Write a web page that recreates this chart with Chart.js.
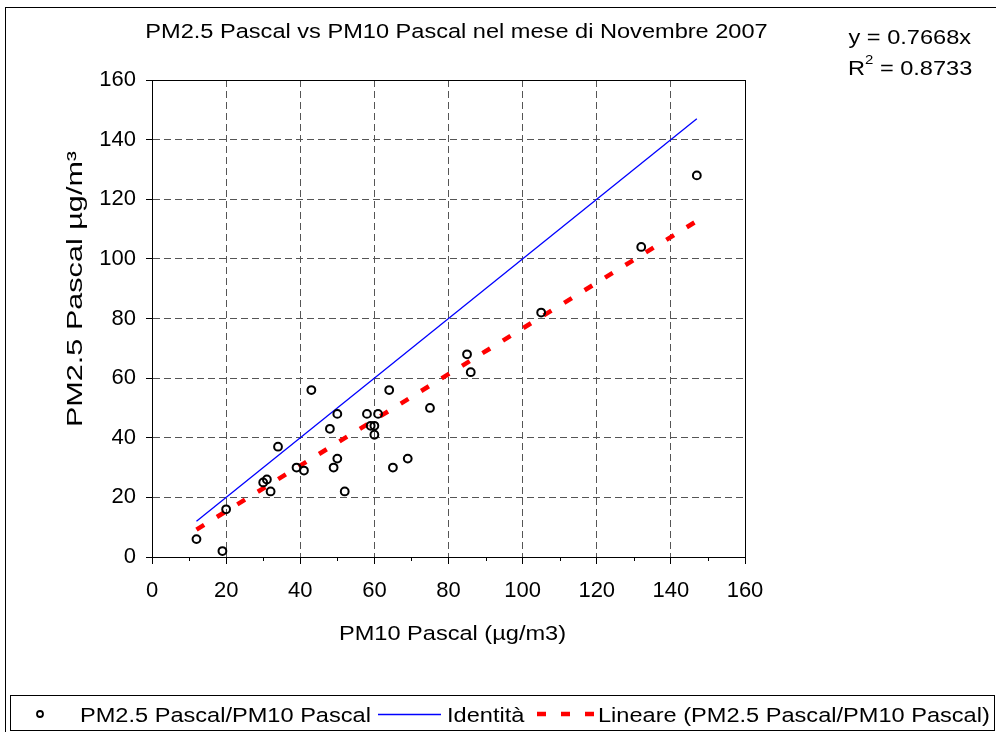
<!DOCTYPE html>
<html><head><meta charset="utf-8">
<script src="https://cdn.jsdelivr.net/npm/chart.js@4.4.1/dist/chart.umd.min.js"></script>
<style>html,body{margin:0;padding:0;background:#fff}canvas{display:block}</style>
</head><body>
<canvas id="c" width="996" height="732"></canvas>
<script>
// ---- data ----
const pm10Values = [12,19,20,30,31,32,34,39,41,43,48,49,50,50,52,58,59,60,60,61,64,65,69,75,85,86,105,132,147];
const pm25Values = [6,2,16,25,26,22,37,30,29,56,43,30,48,33,22,48,44,44,41,48,56,30,33,50,68,62,82,104,128];
const identityX = [12, 147];
const identityY = [12, 147];
const trendX = [12, 147];
const trendY = [9.2, 112.7];
const axisTicks = [0,20,40,60,80,100,120,140,160];
const minorTicksX = [10,30,50,70,90,110,130,150];
const seriesLabels = ['PM2.5 Pascal/PM10 Pascal', 'Identità', 'Lineare (PM2.5 Pascal/PM10 Pascal)'];
const titleText = 'PM2.5 Pascal vs PM10 Pascal nel mese di Novembre 2007';
const xTitleText = 'PM10 Pascal (µg/m3)';
const yTitleText = 'PM2.5 Pascal µg/m³';
const eqLine1 = 'y = 0.7668x';
const eqLine2Base = 'R';
const eqLine2Sup = '2';
const eqLine2Rest = ' = 0.8733';

const FONT = '"Liberation Sans", Arial, sans-serif';
const SX = 1.15;

function toPoints(xs, ys) { return xs.map((x, i) => ({x: x, y: ys[i]})); }

function stretchedText(ctx, text, x, y, align, size, sx) {
  ctx.save();
  ctx.font = size + 'px ' + FONT;
  ctx.translate(x, y);
  ctx.scale(sx, 1);
  ctx.textAlign = align;
  ctx.textBaseline = 'alphabetic';
  ctx.fillText(text, 0, 0);
  const w = ctx.measureText(text).width * sx;
  ctx.restore();
  return w;
}

const decor = {
  id: 'decor',
  beforeDraw(chart) {
    const ctx = chart.ctx;
    ctx.save();
    ctx.fillStyle = '#fff';
    ctx.fillRect(0, 0, chart.width, chart.height);
    ctx.restore();
  },
  afterDraw(chart) {
    const ctx = chart.ctx;
    const a = chart.chartArea;
    const xs = chart.scales.x;
    ctx.save();
    // plot border
    ctx.strokeStyle = '#000';
    ctx.lineWidth = 1;
    ctx.strokeRect(Math.round(a.left) + 0.5, Math.round(a.top) + 0.5, Math.round(a.right - a.left), Math.round(a.bottom - a.top));
    // minor ticks on x axis
    ctx.beginPath();
    minorTicksX.forEach(v => {
      const px = Math.round(xs.getPixelForValue(v)) + 0.5;
      ctx.moveTo(px, a.bottom);
      ctx.lineTo(px, a.bottom + 4);
    });
    ctx.stroke();
    // outer chart frame
    ctx.strokeRect(5.5, 7.5, 1000, 740);

    ctx.fillStyle = '#000';
    // title
    stretchedText(ctx, titleText, 456.5, 37.5, 'center', 20.5, SX);
    // equation
    stretchedText(ctx, eqLine1, 848.5, 44, 'left', 20.5, SX);
    let x = 848;
    x += stretchedText(ctx, eqLine2Base, x, 75, 'left', 20.5, SX);
    x += stretchedText(ctx, eqLine2Sup, x, 64, 'left', 13, SX);
    stretchedText(ctx, eqLine2Rest, x, 75, 'left', 20.5, SX);
    // x axis title
    stretchedText(ctx, xTitleText, 452.5, 640, 'center', 20.5, SX);
    // y axis title (rotated)
    ctx.save();
    ctx.font = '22.5px ' + FONT;
    ctx.translate(82, 289);
    ctx.rotate(-Math.PI / 2);
    ctx.scale(1.36, 1);
    ctx.textAlign = 'center';
    ctx.textBaseline = 'alphabetic';
    ctx.fillText(yTitleText, 0, 0);
    ctx.restore();

    // legend
    ctx.strokeStyle = '#000';
    ctx.lineWidth = 1;
    ctx.strokeRect(10.5, 695.5, 984, 35);
    const ds = chart.data.datasets;
    const ly = 714;
    // scatter marker
    ctx.beginPath();
    ctx.arc(40, ly, 3, 0, Math.PI * 2);
    ctx.lineWidth = 1.8;
    ctx.strokeStyle = ds[0].borderColor;
    ctx.stroke();
    ctx.fillStyle = '#000';
    stretchedText(ctx, ds[0].label, 80, 721.5, 'left', 20.5, SX);
    // identity line
    ctx.beginPath();
    ctx.strokeStyle = ds[1].borderColor;
    ctx.lineWidth = ds[1].borderWidth;
    ctx.moveTo(378, ly + 0.5); ctx.lineTo(441, ly + 0.5);
    ctx.stroke();
    stretchedText(ctx, ds[1].label, 447, 721.5, 'left', 20.5, SX);
    // trend line
    ctx.beginPath();
    ctx.strokeStyle = ds[2].borderColor;
    ctx.lineWidth = ds[2].borderWidth;
    ctx.setLineDash(ds[2].borderDash);
    ctx.moveTo(537, ly); ctx.lineTo(596, ly);
    ctx.stroke();
    ctx.setLineDash([]);
    stretchedText(ctx, ds[2].label, 598, 721.5, 'left', 20.5, SX);
    ctx.restore();
  }
};

const commonScale = (axis) => ({
  type: 'linear',
  min: 0, max: 160,
  afterBuildTicks: s => { s.ticks = axisTicks.map(v => ({value: v})); },
  grid: {
    color: '#555',
    lineWidth: 1,
    tickColor: '#000',
    tickLength: axis === 'x' ? 7 : 6,
    drawTicks: true
  },
  border: { display: true, color: '#000', width: 1, dash: [7, 4] },
  ticks: {
    color: '#000',
    font: { family: FONT, size: 22 },
    padding: axis === 'x' ? 14 : 10,
    maxRotation: 0,
    autoSkip: false
  },
  afterFit: s => { if (axis === 'x') { s.height = 175; } else { s.width = 152; } }
});

new Chart(document.getElementById('c'), {
  type: 'scatter',
  data: {
    datasets: [
      {
        label: seriesLabels[0],
        data: toPoints(pm10Values, pm25Values),
        showLine: false,
        pointStyle: 'circle',
        pointRadius: 3.9,
        pointBorderWidth: 2,
        borderColor: '#000',
        backgroundColor: 'rgba(0,0,0,0)',
        order: 1
      },
      {
        label: seriesLabels[1],
        data: toPoints(identityX, identityY),
        showLine: true,
        pointRadius: 0,
        borderColor: '#0000FF',
        borderWidth: 1.3,
        order: 2
      },
      {
        label: seriesLabels[2],
        data: toPoints(trendX, trendY),
        showLine: true,
        pointRadius: 0,
        borderColor: '#FF0000',
        borderWidth: 4.5,
        borderDash: [9, 15],
        borderCapStyle: 'butt',
        order: 3
      }
    ]
  },
  options: {
    responsive: false,
    animation: false,
    devicePixelRatio: 1,
    layout: { padding: { left: 0, top: 80, right: 251, bottom: 0 } },
    plugins: { legend: { display: false }, title: { display: false }, tooltip: { enabled: false } },
    scales: { x: commonScale('x'), y: commonScale('y') }
  },
  plugins: [decor]
});
</script>
</body></html>
